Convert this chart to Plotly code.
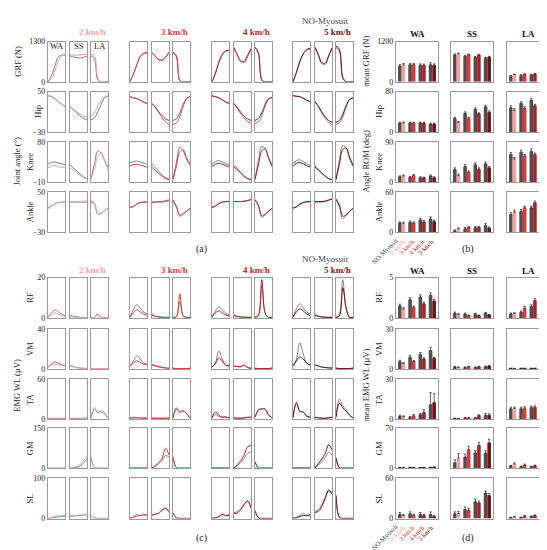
import plotly.graph_objects as go

W, H = 547, 550
FONT = "Liberation Serif"

speeds = ["2 km/h", "3 km/h", "4 km/h", "5 km/h"]
speed_colors = ["#f3a2a2", "#dc3a3a", "#b01f28", "#761016"]
off_line = "#808080"
off_bar = "#4f4f4f"
phases = ["WA", "SS", "LA"]
t = [0, 0.2, 0.4, 0.6, 0.8, 1.0]

# curves: per speed, WA(6) | SS(6) | LA(6)
grf_off = [
    [0, 200, 500, 800, 860, 860, 840, 800, 780, 770, 790, 830, 840, 750, 50, 0, 0, 0],
    [0, 250, 550, 800, 900, 920, 930, 820, 700, 690, 780, 920, 930, 800, 20, 0, 0, 0],
    [0, 250, 600, 850, 980, 1000, 1080, 850, 640, 620, 800, 1030, 1100, 900, 30, 0, 0, 0],
    [0, 300, 650, 900, 1020, 1050, 1100, 850, 580, 560, 800, 1080, 1100, 1000, 100, 0, 0, 0],
]
grf_on = [
    [0, 100, 350, 650, 840, 870, 880, 860, 860, 870, 880, 900, 880, 850, 150, 0, 0, 0],
    [0, 250, 550, 820, 920, 940, 950, 830, 720, 710, 800, 960, 960, 850, 50, 0, 0, 0],
    [0, 280, 640, 880, 1000, 1020, 1100, 870, 680, 660, 860, 1080, 1120, 950, 80, 0, 0, 0],
    [0, 300, 650, 900, 1040, 1080, 1120, 880, 620, 600, 840, 1100, 1150, 1050, 150, 0, 0, 0],
]
hip_off = [
    [42, 40, 36, 30, 25, 20, 20, 14, 8, 2, -3, -6, -6, -2, 10, 25, 38, 41],
    [40, 38, 36, 33, 29, 26, 26, 18, 8, -2, -10, -15, -15, -12, 0, 20, 36, 40],
    [42, 40, 38, 34, 29, 26, 26, 16, 6, -3, -9, -13, -13, -10, 2, 22, 35, 38],
    [42, 41, 40, 37, 33, 30, 30, 20, 8, -3, -11, -15, -15, -12, 0, 20, 34, 38],
]
hip_on = [
    [42, 41, 37, 31, 26, 21, 21, 16, 10, 5, 1, 0, 0, 8, 22, 33, 40, 42],
    [40, 38, 36, 33, 30, 27, 27, 19, 10, 2, -4, -7, -7, -4, 8, 25, 37, 40],
    [42, 40, 38, 34, 30, 27, 27, 18, 9, 1, -4, -7, -7, -3, 8, 25, 36, 38],
    [42, 41, 40, 37, 33, 30, 30, 21, 10, 0, -7, -11, -11, -7, 5, 23, 35, 38],
]
knee_off = [
    [30, 34, 35, 33, 31, 29, 29, 22, 15, 8, 2, -2, -2, 30, 60, 55, 38, 23],
    [33, 36, 37, 35, 33, 30, 30, 22, 14, 6, 0, -3, -3, 35, 68, 60, 40, 28],
    [30, 36, 38, 35, 31, 28, 28, 20, 12, 4, -2, -4, -4, 38, 70, 65, 42, 25],
    [30, 38, 40, 36, 31, 27, 27, 19, 11, 4, -2, -5, -5, 40, 72, 66, 42, 25],
]
knee_on = [
    [22, 26, 27, 25, 23, 22, 22, 17, 11, 5, 0, -3, -3, 18, 48, 55, 38, 18],
    [26, 29, 30, 28, 26, 23, 23, 16, 9, 3, -2, -4, -4, 25, 58, 62, 45, 30],
    [25, 30, 32, 30, 27, 24, 24, 17, 10, 3, -2, -4, -4, 28, 60, 64, 45, 28],
    [25, 32, 34, 31, 27, 24, 24, 17, 10, 3, -2, -4, -4, 30, 63, 66, 46, 28],
]
ankle_off = [
    [18, 22, 27, 29, 30, 30, 30, 30, 30, 30, 30, 30, 30, 26, 6, 8, 13, 18],
    [20, 22, 26, 29, 30, 30, 30, 30, 30, 30, 31, 32, 32, 20, 2, 6, 12, 18],
    [20, 22, 27, 30, 31, 31, 31, 31, 31, 31, 33, 35, 35, 22, 0, 5, 12, 18],
    [18, 20, 25, 29, 30, 30, 30, 30, 30, 31, 33, 36, 36, 20, -3, 3, 12, 18],
]
ankle_on = [
    [17, 21, 26, 29, 30, 31, 31, 31, 31, 31, 32, 32, 32, 28, 8, 9, 13, 17],
    [19, 21, 26, 29, 30, 30, 30, 30, 31, 31, 33, 34, 34, 22, 4, 7, 12, 17],
    [19, 22, 27, 30, 31, 31, 31, 31, 31, 32, 33, 35, 35, 24, 3, 6, 12, 17],
    [18, 21, 26, 29, 31, 31, 31, 31, 31, 32, 34, 36, 36, 24, 2, 5, 12, 17],
]
rf_off = [
    [0.5, 2.5, 4, 3, 1.8, 1.2, 1.2, 0.8, 0.5, 0.3, 0.3, 0.3, 0.3, 0.3, 2, 0.3, 0.2, 0.2],
    [0.5, 4, 6.5, 5, 3, 2, 2, 1, 0.6, 0.4, 0.3, 0.3, 0.3, 0.5, 8, 1, 0.3, 0.3],
    [0.5, 3.5, 5.5, 4, 2.5, 1.5, 1.5, 0.8, 0.5, 0.4, 0.3, 0.3, 0.3, 1, 16, 2, 0.3, 0.3],
    [0.5, 4.5, 7, 5, 3, 2, 2, 1, 0.6, 0.4, 0.3, 0.3, 0.3, 2, 19, 4, 0.3, 0.3],
]
rf_on = [
    [0.3, 1.5, 2.5, 2, 1.2, 0.8, 0.8, 0.5, 0.3, 0.2, 0.2, 0.2, 0.2, 0.2, 1.2, 0.2, 0.2, 0.2],
    [0.3, 2.5, 4, 3, 2, 1.2, 1.2, 0.7, 0.4, 0.3, 0.3, 0.3, 0.3, 0.5, 12, 1, 0.3, 0.3],
    [0.3, 2.5, 3.5, 2.5, 1.5, 1, 1, 0.6, 0.4, 0.3, 0.3, 0.3, 0.3, 1.5, 19, 2.5, 0.3, 0.3],
    [0.3, 3, 4.5, 3.5, 2, 1.2, 1.2, 0.7, 0.4, 0.3, 0.3, 0.3, 0.3, 1, 15, 5, 0.3, 0.3],
]
vm_off = [
    [2, 5, 7, 6, 4.5, 3.5, 3.5, 2.5, 1.5, 1, 0.8, 0.6, 0.6, 0.5, 0.5, 0.5, 0.5, 0.5],
    [3, 8, 13, 10, 6, 5, 5, 3.5, 2.5, 1.8, 1.2, 0.8, 0.8, 0.5, 0.5, 0.5, 0.5, 0.8],
    [2, 6, 18, 10, 4, 3, 3, 2.5, 2, 3.5, 1.5, 0.8, 0.8, 0.5, 0.5, 0.5, 0.5, 1],
    [3, 10, 26, 15, 6, 4, 4, 3, 2, 1.5, 1.2, 1, 1, 0.5, 0.5, 0.5, 0.5, 1],
]
vm_on = [
    [1.5, 4, 5, 4.5, 3.5, 3, 3, 2, 1.2, 0.8, 0.6, 0.5, 0.5, 0.5, 0.5, 0.5, 0.5, 0.5],
    [2.5, 6, 8, 6.5, 5, 4, 4, 3, 2, 1.5, 1, 0.8, 0.8, 0.5, 0.5, 0.5, 0.5, 0.8],
    [2, 5, 11, 8, 4, 3, 3, 2.5, 2.5, 4, 1.5, 0.8, 0.8, 0.5, 0.5, 0.5, 0.5, 1],
    [3, 8, 12, 10, 6, 4, 4, 3, 2, 1.5, 1.2, 1, 1, 0.5, 0.5, 0.5, 0.5, 1],
]
ta_off = [
    [1, 1, 1, 1, 1, 1, 1, 1, 1, 1, 1, 1.5, 1.5, 15, 10, 11, 8, 1],
    [2, 3, 2.5, 2, 2, 2, 2, 1.5, 1.5, 1.5, 1.5, 2, 2, 17, 12, 13, 8, 1.5],
    [2, 7, 4, 3, 3, 2, 2, 1.5, 1.5, 2, 2.5, 2.5, 2.5, 14, 16, 15, 6, 2],
    [2, 25, 12, 10, 4, 3, 3, 2, 1.5, 1.5, 2, 3, 3, 30, 20, 14, 6, 2],
]
ta_on = [
    [1.5, 1.5, 1.5, 1.5, 1.5, 1.5, 1.5, 1.5, 1.5, 1.5, 1.5, 2, 2, 18, 11, 13, 10, 1.5],
    [1.5, 2, 2, 2, 1.5, 1.5, 1.5, 1.5, 1.5, 1.5, 1.5, 2, 2, 15, 10, 12, 9, 1.5],
    [2, 11, 6, 3, 3.5, 2, 2, 1.5, 1.5, 2, 3, 3, 3, 14, 15, 15, 7, 2],
    [2, 24, 12, 11, 5, 3, 3, 2, 1.5, 1.5, 2, 3, 3, 24, 17, 12, 6, 2],
]
gm_off = [
    [0.5, 0.5, 0.5, 0.5, 0.5, 0.5, 0.5, 2, 4, 10, 20, 35, 35, 3, 0.5, 0.5, 0.5, 0.5],
    [1, 1, 1, 1, 1, 1, 1, 8, 18, 30, 48, 42, 40, 3, 1, 1, 1, 1],
    [1, 1, 1, 1, 1, 1, 1, 10, 22, 38, 55, 62, 22, 2, 1, 1, 1, 1],
    [1, 1, 1, 1, 1, 1, 1, 12, 25, 40, 60, 50, 35, 2, 1, 1, 1, 1],
]
gm_on = [
    [1, 1, 1, 1, 1, 1, 1, 4, 8, 15, 30, 45, 45, 4, 0.5, 0.5, 0.5, 0.5],
    [1.5, 1.5, 1.5, 1.5, 1.5, 1.5, 1.5, 10, 22, 38, 75, 50, 45, 3, 1, 1, 1, 1],
    [1.5, 1.5, 1.5, 1.5, 1.5, 1.5, 1.5, 15, 30, 50, 80, 85, 25, 2, 1, 1, 1, 1],
    [1.5, 1.5, 1.5, 1.5, 1.5, 1.5, 1.5, 18, 35, 55, 88, 70, 40, 3, 1, 1, 1, 1],
]
sl_off = [
    [0, 1, 3, 4, 5, 6, 6, 6, 7, 8, 9, 9, 8, 2, 0.5, 0.5, 0.5, 0.5],
    [1, 4, 10, 7, 9, 8, 8, 10, 13, 20, 25, 15, 12, 2, 0.5, 0.5, 0.5, 0.5],
    [1, 2, 5, 12, 8, 10, 15, 17, 25, 36, 42, 25, 18, 2, 0.5, 0.5, 0.5, 0.5],
    [1, 3, 8, 13, 8, 10, 18, 22, 35, 52, 67, 60, 55, 3, 0.5, 0.5, 0.5, 0.5],
]
sl_on = [
    [1, 3, 6, 7, 7, 8, 8, 8, 8, 9, 9, 10, 9, 2, 0.5, 0.5, 0.5, 0.5],
    [1, 3, 6, 8, 9, 9, 9, 11, 14, 22, 26, 18, 14, 2, 0.5, 0.5, 0.5, 0.5],
    [1, 2, 4, 10, 7, 8, 12, 14, 22, 35, 44, 28, 20, 2, 0.5, 0.5, 0.5, 0.5],
    [1, 2, 5, 8, 7, 9, 15, 18, 30, 50, 71, 62, 58, 3, 0.5, 0.5, 0.5, 0.5],
]

# bars: per phase WA, SS, LA -> 4 speeds
grf_bar_off = [[470, 510, 495, 510], [800, 760, 730, 700], [170, 190, 205, 205]]
grf_bar_on = [[505, 510, 490, 495], [835, 805, 800, 740], [215, 225, 235, 255]]
grf_err_off = [[40, 40, 40, 60], [30, 30, 30, 30], [20, 20, 20, 20]]
grf_err_on = [[40, 40, 40, 40], [20, 20, 20, 20], [15, 15, 15, 15]]
hip_bar_off = [[18, 18, 18, 16], [27, 37, 45, 50], [48, 57, 63, 66]]
hip_bar_on = [[18, 18, 18, 16], [19, 27, 36, 39], [43, 47, 52, 53]]
hip_err_off = [[1.5, 1.5, 1.5, 1.5], [2, 3, 3, 3], [4, 3, 3, 3]]
hip_err_on = [[1.5, 1.5, 1.5, 1.5], [2, 2, 2, 3], [3, 3, 3, 3]]
knee_bar_off = [[12, 11, 10, 14], [28, 35, 39, 41], [62, 67, 69, 69]]
knee_bar_on = [[14, 15, 10, 10], [15, 22, 29, 32], [52, 59, 62, 63]]
knee_err_off = [[2, 2, 2, 2], [4, 4, 4, 4], [4, 4, 5, 4]]
knee_err_on = [[2, 2, 1, 2], [3, 3, 3, 3], [3, 3, 3, 3]]
ankle_bar_off = [[14, 15, 18.5, 20], [2.5, 5.5, 7, 10], [26.5, 31.5, 36.5, 41.5]]
ankle_bar_on = [[13.5, 14, 15.5, 16], [5.5, 7.5, 7.5, 6.5], [30, 36.5, 44, 49]]
ankle_err_off = [[1.5, 2, 2, 3], [1, 1.5, 1.5, 3], [3, 2.5, 2.5, 3]]
ankle_err_on = [[1.5, 1.5, 2, 2], [1, 1, 1.5, 1.5], [3, 2.5, 2.5, 2.5]]
rf_bar_off = [[1.5, 2.25, 2.6, 2.8], [0.58, 0.5, 0.46, 0.58], [0.5, 0.7, 1.42, 2.3]]
rf_bar_on = [[1.1, 1.33, 1.75, 2.1], [0.42, 0.3, 0.3, 0.38], [0.54, 1.2, 2.17, 3.54]]
rf_err_off = [[0.2, 0.25, 0.25, 0.3], [0.15, 0.1, 0.1, 0.1], [0.1, 0.15, 0.2, 0.25]]
rf_err_on = [[0.15, 0.15, 0.2, 0.2], [0.1, 0.05, 0.05, 0.05], [0.1, 0.2, 0.25, 0.35]]
vm_bar_off = [[5.5, 8.75, 10.75, 13.75], [1.5, 1.25, 1.25, 1.75], [0.4, 0.4, 0.4, 0.4]]
vm_bar_on = [[4.25, 5.75, 7.5, 8], [1.25, 1.75, 1.75, 2.25], [0.4, 0.4, 0.4, 0.4]]
vm_err_off = [[1, 1.5, 1.5, 2.5], [0.5, 0.3, 0.3, 0.5], [0.1, 0.1, 0.1, 0.1]]
vm_err_on = [[0.5, 0.5, 0.8, 0.8], [0.3, 0.3, 0.3, 0.3], [0.1, 0.1, 0.1, 0.1]]
ta_bar_off = [[2, 1.5, 3.25, 10.75], [0.5, 1, 1, 3], [7.75, 7.75, 8.75, 10.25]]
ta_bar_on = [[2, 2.5, 5, 12.5], [0.5, 1, 2.75, 3], [8, 8.25, 9, 12.5]]
ta_err_off = [[1, 0.5, 1, 9], [0.3, 0.3, 0.3, 1.2], [1.2, 1.2, 1, 1.5]]
ta_err_on = [[0.5, 1, 2, 6.5], [0.2, 0.3, 0.5, 1], [1, 1, 1, 2]]
gm_bar_off = [[1.2, 1.5, 1.2, 1.5], [10, 19.6, 26.7, 26.7], [4, 3, 3, 1.8]]
gm_bar_on = [[1.5, 1.5, 1.3, 2.2], [17.8, 32.6, 40.3, 44.5], [7.7, 6, 4.7, 5.3]]
gm_err_off = [[0.5, 0.5, 0.5, 0.5], [5, 5, 4, 4], [1, 1, 1, 0.5]]
gm_err_on = [[0.5, 0.5, 0.5, 0.5], [8, 6, 5, 6], [2, 1.5, 1, 1.5]]
sl_bar_off = [[6, 7, 6, 6], [7, 13.5, 25, 38], [1.5, 1.5, 3, 5]]
sl_bar_on = [[4.5, 5, 5, 3], [7.5, 12.5, 23, 34.5], [2.5, 3.5, 4.5, 7]]
sl_err_off = [[3, 3, 3, 4], [3, 4, 4, 3], [0.5, 0.5, 0.8, 1.5]]
sl_err_on = [[1.5, 1.5, 1.5, 1.5], [3, 3, 3, 3], [0.5, 1, 1, 1.5]]

# (label, curves off/on, curve range, bars off/on/err, bar max)
rows = [
    ("GRF", grf_off, grf_on, (0, 1300), grf_bar_off, grf_bar_on, grf_err_off, grf_err_on, 1200),
    ("Hip", hip_off, hip_on, (-30, 50), hip_bar_off, hip_bar_on, hip_err_off, hip_err_on, 80),
    ("Knee", knee_off, knee_on, (-10, 80), knee_bar_off, knee_bar_on, knee_err_off, knee_err_on, 90),
    ("Ankle", ankle_off, ankle_on, (-30, 50), ankle_bar_off, ankle_bar_on, ankle_err_off, ankle_err_on, 60),
    ("RF", rf_off, rf_on, (0, 20), rf_bar_off, rf_bar_on, rf_err_off, rf_err_on, 5),
    ("VM", vm_off, vm_on, (0, 40), vm_bar_off, vm_bar_on, vm_err_off, vm_err_on, 30),
    ("TA", ta_off, ta_on, (0, 60), ta_bar_off, ta_bar_on, ta_err_off, ta_err_on, 30),
    ("GM", gm_off, gm_on, (0, 150), gm_bar_off, gm_bar_on, gm_err_off, gm_err_on, 70),
    ("SL", sl_off, sl_on, (0, 100), sl_bar_off, sl_bar_on, sl_err_off, sl_err_on, 60),
]

row_tops = [30, 81, 132, 183, 270, 322, 373, 423, 474]
row_h = 41
group_x = [40, 122, 204, 285]
sub_dx = [0, 22, 43]
sub_w = 17
bar_x = [388, 443, 499]
bar_w = 42

fig = go.Figure()
layout = {}
frame = dict(showgrid=False, zeroline=False, showticklabels=False, showline=True,
             mirror=True, linecolor="#9a9a9a", linewidth=1.2, ticks="", fixedrange=True)
count = [0]


def fmt(v):
    return str(v).replace("-", "\u2212")


def new_axes(x0, w, top, h, xr, yr, tickv=None):
    count[0] += 1
    s = "" if count[0] == 1 else str(count[0])
    layout["xaxis" + s] = dict(domain=[x0 / W, (x0 + w) / W], range=xr, anchor="y" + s, **frame)
    yax = dict(domain=[1 - (top + h) / H, 1 - top / H], range=yr, anchor="x" + s, **frame)
    if tickv is not None:
        yax.update(showticklabels=True, tickvals=tickv, ticktext=[fmt(v) for v in tickv],
                   tickfont=dict(family=FONT, size=8, color="#222"))
    layout["yaxis" + s] = yax
    return "x" + s, "y" + s


for r, (name, c_off, c_on, (lo, hi), b_off, b_on, e_off, e_on, bmax) in enumerate(rows):
    top = row_tops[r]
    # line panels
    for s in range(4):
        for p in range(3):
            tk = [lo, hi] if (s == 0 and p == 0) else None
            xa, ya = new_axes(group_x[s] + sub_dx[p], sub_w, top, row_h, [0, 1], [lo, hi], tk)
            fig.add_trace(go.Scatter(x=t, y=c_off[s][6 * p:6 * p + 6], xaxis=xa, yaxis=ya,
                                     mode="lines", line=dict(color=off_line, width=1, shape="spline"),
                                     showlegend=False, hoverinfo="skip"))
            fig.add_trace(go.Scatter(x=t, y=c_on[s][6 * p:6 * p + 6], xaxis=xa, yaxis=ya,
                                     mode="lines", line=dict(color=speed_colors[s], width=1, shape="spline"),
                                     showlegend=False, hoverinfo="skip"))
    # bar panels
    for p in range(3):
        tk = [0, bmax] if p == 0 else None
        xa, ya = new_axes(bar_x[p], bar_w, top, row_h, [-0.55, 3.55], [0, bmax], tk)
        fig.add_trace(go.Bar(x=[0, 1, 2, 3], y=b_off[p], xaxis=xa, yaxis=ya,
                             marker=dict(color=off_bar, line=dict(width=0)),
                             error_y=dict(type="data", symmetric=False, array=e_off[p],
                                          arrayminus=[0, 0, 0, 0], color="#222", thickness=0.7, width=1.2),
                             showlegend=False, hoverinfo="skip"))
        fig.add_trace(go.Bar(x=[0, 1, 2, 3], y=b_on[p], xaxis=xa, yaxis=ya,
                             marker=dict(color=speed_colors, line=dict(width=0)),
                             error_y=dict(type="data", symmetric=False, array=e_on[p],
                                          arrayminus=[0, 0, 0, 0], color="#222", thickness=0.7, width=1.2),
                             showlegend=False, hoverinfo="skip"))

ann = []


def text(x, y, s, size=8.5, color="#222", bold=False, angle=0, xanchor="center", yanchor="middle"):
    ann.append(dict(x=x / W, y=1 - y / H, xref="paper", yref="paper", text=("<b>%s</b>" % s) if bold else s,
                    showarrow=False, textangle=angle, xanchor=xanchor, yanchor=yanchor,
                    font=dict(family=FONT, size=size, color=color)))


# speed titles
for ty, ny in [(20, 9), (262, 251)]:
    for s in range(4):
        text(group_x[s] + 60, ty, speeds[s], size=9, color=speed_colors[s], bold=True, xanchor="right")
    text(343, ny, "NO-Myosuit", size=9, color="#444", xanchor="right")

# phase labels inside the first GRF panels
for p in range(3):
    text(group_x[0] + sub_dx[p] + sub_w / 2, 35, phases[p], size=8.5, color="#222")

# bar column headers
for hy in [22, 263]:
    for p in range(3):
        text(bar_x[p] + bar_w / 2, hy, phases[p], size=9, bold=True, color="#111")

# left row labels
lab_x = {"GRF": None, "Hip": 30, "Knee": 22, "Ankle": 22, "RF": 22, "VM": 22, "TA": 22, "GM": 22, "SL": 22}
for r, row in enumerate(rows):
    name = row[0]
    cy = row_tops[r] + row_h / 2
    if name == "GRF":
        text(10, cy, "GRF (N)", angle=-90)
        text(358, cy, "mean GRF (N)", angle=-90)
    else:
        text(lab_x[name], cy, name, angle=-90)
        text(371, cy, name, angle=-90)
text(9, 152, "Joint angle (°)", angle=-90)
text(358, 152, "Angle ROM (deg)", angle=-90)
text(9, 380, "EMG WL (µV)", angle=-90)
text(358, 380, "mean EMG WL (µV)", angle=-90)

# rotated condition labels under the bar plots
cond = ["NO-Myosuit"] + speeds
cond_colors = ["#444"] + speed_colors
cond_x = [393, 402, 411, 421, 430]
for by in [226, 517]:
    for i in range(5):
        text(cond_x[i], by, cond[i], size=6.5, color=cond_colors[i], angle=-45,
             xanchor="right", yanchor="top")

# panel letters
text(193, 241, "(a)", size=10)
text(460, 241, "(b)", size=10)
text(193, 535, "(c)", size=10)
text(460, 535, "(d)", size=10)

fig.update_layout(**layout)
fig.update_layout(width=W, height=H, margin=dict(l=0, r=0, t=0, b=0),
                  paper_bgcolor="white", plot_bgcolor="white",
                  barmode="group", bargap=0.3, bargroupgap=0,
                  annotations=ann, showlegend=False,
                  font=dict(family=FONT, size=8, color="#222"))
fig.write_html("out.html")
